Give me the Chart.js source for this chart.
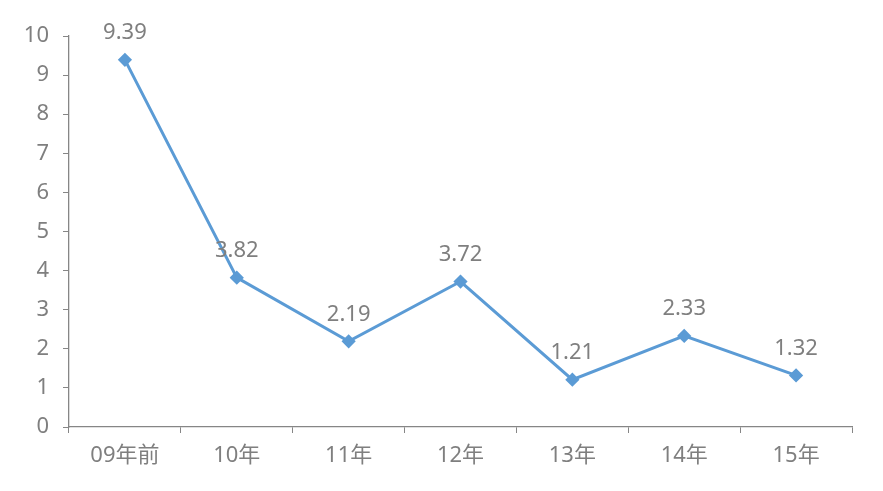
<!DOCTYPE html>
<html>
<head>
<meta charset="utf-8">
<script src="https://cdn.jsdelivr.net/npm/chart.js@4/dist/chart.umd.min.js"></script>
<style>
  html, body { margin: 0; padding: 0; background: #fff; }
  #wrap { width: 883px; height: 491px; }
</style>
</head>
<body>
<div id="wrap"><canvas id="chart"></canvas></div>
<script>
// Chart data
const categories = ['09年前', '10年', '11年', '12年', '13年', '14年', '15年'];
const values = [9.39, 3.82, 2.19, 3.72, 1.21, 2.33, 1.32];
const yTicks = [0, 1, 2, 3, 4, 5, 6, 7, 8, 9, 10];

const axisColor = '#868686';
const textColor = '#7f7f7f';
const fontFamily = '"Noto Sans", "Noto Sans CJK SC", sans-serif';

// Draw value labels above each point
const valueLabels = {
    id: 'valueLabels',
    afterDatasetsDraw(chart) {
        const ctx = chart.ctx;
        const meta = chart.getDatasetMeta(0);
        ctx.save();
        ctx.font = '22px ' + fontFamily;
        ctx.fillStyle = textColor;
        ctx.textAlign = 'center';
        ctx.textBaseline = 'middle';
        meta.data.forEach((pt, i) => {
            ctx.fillText(values[i].toFixed(2), pt.x, pt.y - 27);
        });
        ctx.restore();
    }
};

const ctx = document.getElementById('chart').getContext('2d');
new Chart(ctx, {
    type: 'line',
    data: {
        labels: categories,
        datasets: [{
            data: values,
            borderColor: '#5b9bd5',
            backgroundColor: '#5b9bd5',
            borderWidth: 3,
            pointStyle: 'rectRot',
            pointRadius: 5,
            pointHoverRadius: 5,
            tension: 0,
            fill: false,
        }]
    },
    options: {
        responsive: true,
        maintainAspectRatio: false,
        animation: false,
        layout: { padding: { left: 0, top: 36, right: 31, bottom: 0 } },
        plugins: {
            legend: { display: false },
            tooltip: { enabled: false },
        },
        scales: {
            x: {
                offset: true,
                grid: { drawOnChartArea: false, drawTicks: true, tickLength: 6, color: axisColor, offset: true },
                border: { display: true, color: axisColor, width: 1.3 },
                ticks: { color: textColor, padding: 10, font: { size: 22, family: fontFamily } },
                afterFit(scale) { scale.height = 64; },
            },
            y: {
                min: 0,
                max: 10,
                afterBuildTicks(scale) { scale.ticks = yTicks.map(v => ({ value: v })); },
                grid: { drawOnChartArea: false, drawTicks: true, tickLength: 6, color: axisColor },
                border: { display: true, color: axisColor, width: 1.3 },
                ticks: { color: textColor, padding: 14, font: { size: 22, family: fontFamily } },
                afterFit(scale) { scale.width = 69; },
            }
        }
    },
    plugins: [valueLabels]
});
</script>
</body>
</html>
